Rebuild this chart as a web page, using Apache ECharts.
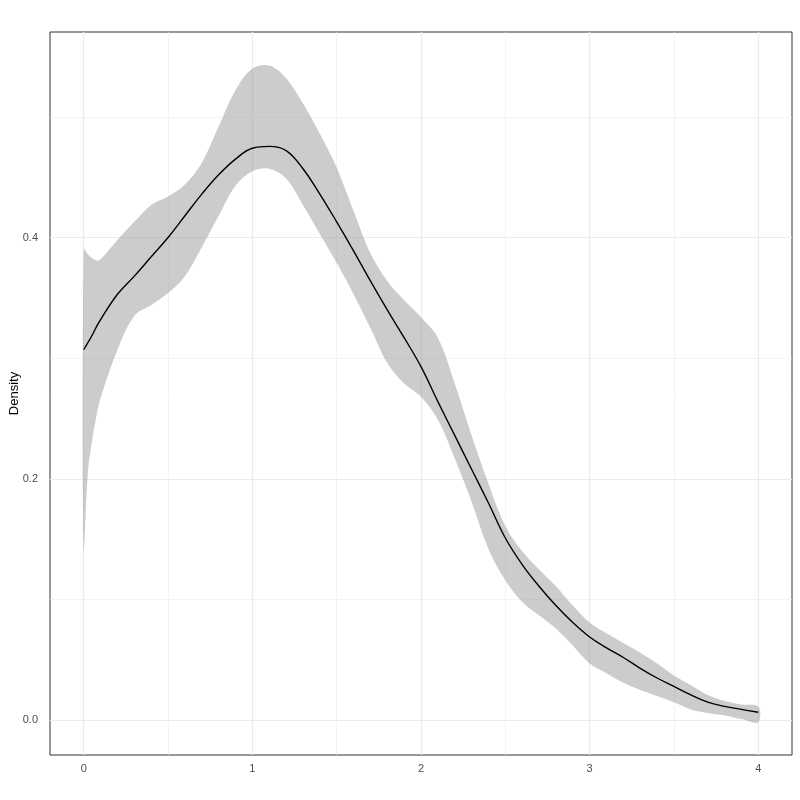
<!DOCTYPE html>
<html>
<head>
<meta charset="utf-8">
<script src="https://cdn.jsdelivr.net/npm/echarts@6/dist/echarts.min.js"></script>
<style>html,body{margin:0;padding:0;background:#fff}#c{width:800px;height:800px}</style>
</head>
<body>
<div id="c"></div>
<script>
const xs = [0, 0.025, 0.05, 0.075, 0.1, 0.2, 0.3, 0.4, 0.5, 0.6, 0.7, 0.8, 0.9, 1.0,
  1.1, 1.2, 1.3, 1.4, 1.5, 1.6, 1.7, 1.8, 1.9, 2.0,
  2.1, 2.2, 2.3, 2.4, 2.5, 2.6, 2.7, 2.8, 2.9, 3.0,
  3.1, 3.2, 3.3, 3.4, 3.5, 3.6, 3.7, 3.8, 3.9, 4.0];
const meanDensity = [0.307, 0.313, 0.319, 0.326, 0.332, 0.353, 0.368, 0.384, 0.400, 0.418, 0.436, 0.452, 0.465, 0.474,
  0.4755, 0.472, 0.457, 0.436, 0.413, 0.389, 0.364, 0.340, 0.317, 0.293,
  0.264, 0.236, 0.208, 0.180, 0.151, 0.129, 0.111, 0.095, 0.081, 0.069,
  0.060, 0.052, 0.043, 0.035, 0.028, 0.021, 0.015, 0.0115, 0.009, 0.0066];
const upperBand = [0.390, 0.386, 0.383, 0.381, 0.382, 0.398, 0.413, 0.427, 0.434, 0.444, 0.462, 0.492, 0.522, 0.540,
  0.5425, 0.532, 0.511, 0.486, 0.458, 0.422, 0.387, 0.364, 0.348, 0.334,
  0.317, 0.279, 0.236, 0.196, 0.161, 0.140, 0.125, 0.111, 0.095, 0.081,
  0.072, 0.064, 0.056, 0.047, 0.037, 0.029, 0.021, 0.016, 0.013, 0.0113];
const lowerBand = [0.140, 0.206, 0.232, 0.252, 0.267, 0.307, 0.335, 0.344, 0.354, 0.368, 0.392, 0.418, 0.443, 0.455,
  0.457, 0.449, 0.427, 0.403, 0.379, 0.353, 0.325, 0.296, 0.279, 0.268,
  0.249, 0.217, 0.181, 0.142, 0.116, 0.098, 0.087, 0.076, 0.062, 0.047,
  0.039, 0.031, 0.025, 0.020, 0.015, 0.009, 0.006, 0.004, 0.001, -0.0017];
const xTicks = [0, 1, 2, 3, 4];
const xMinor = [0.5, 1.5, 2.5, 3.5];
const yTicks = [0, 0.2, 0.4];
const yMinor = [0.1, 0.3, 0.5];

const FONT = "'Liberation Sans', Arial, Helvetica, sans-serif";
const gridMarks = [].concat(
  xTicks.map(v => ({xAxis: v, lineStyle: {width: 1.2}})),
  xMinor.map(v => ({xAxis: v, lineStyle: {width: 0.6}})),
  yTicks.map(v => ({yAxis: v, lineStyle: {width: 1.2}})),
  yMinor.map(v => ({yAxis: v, lineStyle: {width: 0.6}}))
);

const chart = echarts.init(document.getElementById('c'), null, {renderer: 'canvas'});
chart.setOption({
  backgroundColor: '#ffffff',
  animation: false,
  grid: {left: 50, right: 8, top: 32, bottom: 45, show: true, borderColor: '#333333', borderWidth: 1,
    backgroundColor: 'transparent', containLabel: false, outerBoundsMode: 'none'},
  xAxis: {
    type: 'value', min: -0.2, max: 4.2,
    axisLine: {show: false},
    splitLine: {show: false},
    axisTick: {show: true, length: 3.5, customValues: xTicks, lineStyle: {color: '#333333', width: 1}},
    axisLabel: {customValues: xTicks, color: '#4D4D4D', fontSize: 11, fontFamily: FONT, margin: 8, formatter: v => String(v)}
  },
  yAxis: {
    type: 'value', min: -0.0288, max: 0.5703,
    name: 'Density', nameLocation: 'middle', nameGap: 29, nameRotate: 90, nameMoveOverlap: false,
    nameTextStyle: {color: '#000000', fontSize: 13, fontFamily: FONT},
    axisLine: {show: false},
    splitLine: {show: false},
    axisTick: {show: true, length: 3.5, customValues: yTicks, lineStyle: {color: '#333333', width: 1}},
    axisLabel: {customValues: yTicks, color: '#4D4D4D', fontSize: 11, fontFamily: FONT, margin: 12, formatter: v => v.toFixed(1)}
  },
  series: [
    {
      type: 'custom', name: 'band', z: 3, silent: true,
      data: [[0, 0]],
      markLine: {silent: true, symbol: 'none', z: 1, label: {show: false},
        lineStyle: {color: '#EBEBEB', type: 'solid'}, emphasis: {disabled: true}, data: gridMarks},
      renderItem: function (params, api) {
        const pts = [];
        for (let i = 0; i < xs.length; i++) pts.push(api.coord([xs[i], upperBand[i]]));
        for (let i = xs.length - 1; i >= 0; i--) pts.push(api.coord([xs[i], lowerBand[i]]));
        return {type: 'polygon', shape: {points: pts, smooth: 0.35},
          style: {fill: 'rgba(153,153,153,0.5)', stroke: 'none'}};
      }
    },
    {
      type: 'line', name: 'mean', z: 4,
      data: xs.map((x, i) => [x, meanDensity[i]]),
      symbol: 'none', smooth: 0.4, silent: true,
      lineStyle: {color: '#000000', width: 1.4}
    }
  ]
});
</script>
</body>
</html>
